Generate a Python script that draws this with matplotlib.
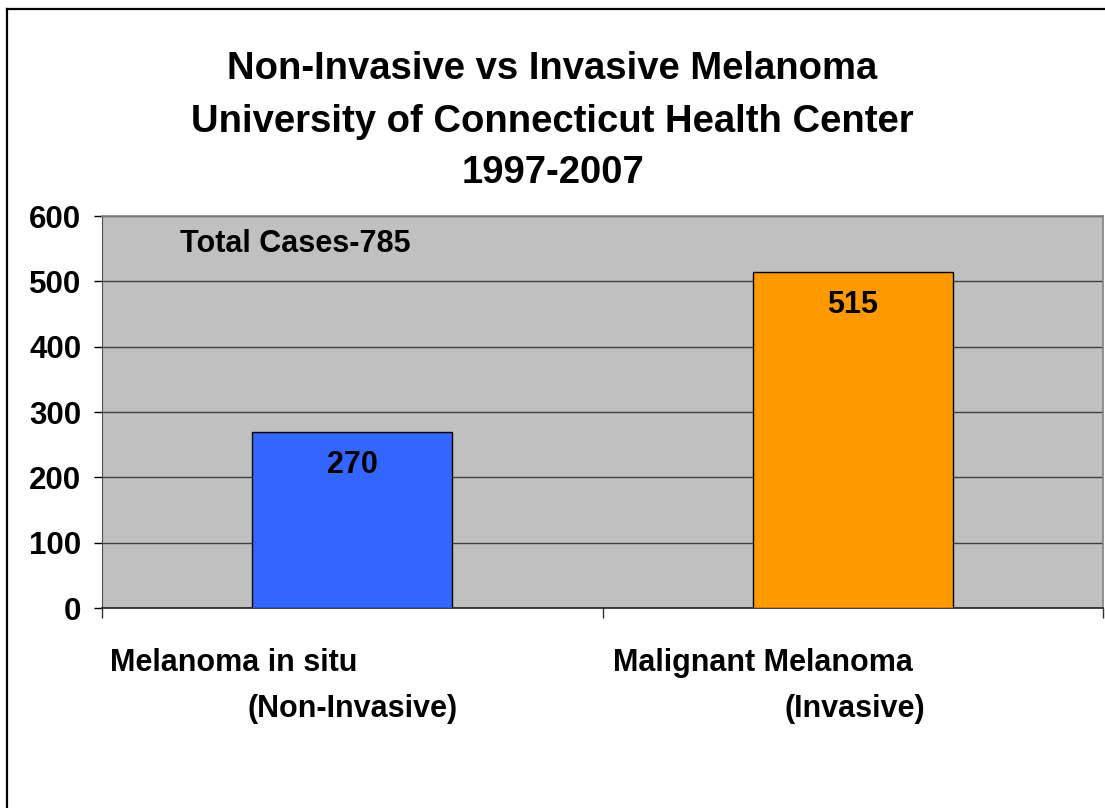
import matplotlib.pyplot as plt
from matplotlib.lines import Line2D

plt.rcParams['font.family'] = ['Liberation Sans', 'DejaVu Sans']
plt.rcParams['font.weight'] = 'bold'

title_lines = ['Non-Invasive vs Invasive Melanoma',
               'University of Connecticut Health Center',
               '1997-2007']
categories = ['Melanoma in situ', 'Malignant Melanoma']
subtitles = ['(Non-Invasive)', '(Invasive)']
cases = [270, 515]
colors = ['#3366FF', '#FF9900']
total_note = 'Total Cases-785'
yticks = [0, 100, 200, 300, 400, 500, 600]

W, H = 1105, 808
fig = plt.figure(figsize=(W / 100, H / 100), dpi=100)
ax = fig.add_axes([102 / W, 200 / H, 1001 / W, 392 / H])
ax.set_facecolor('#C0C0C0')

x = list(range(len(categories)))
ax.bar(x, cases, width=0.4, color=colors, edgecolor='black', linewidth=1, zorder=3)
for xi, v in zip(x, cases):
    ax.annotate(str(v), (xi, v), xytext=(0, -24), textcoords='offset points',
                ha='center', va='center', fontsize=22, fontweight='bold', zorder=4)

ax.set_xlim(-0.5, len(categories) - 0.5)
ax.set_ylim(0, 600)
ax.set_yticks(yticks)
ax.set_yticklabels([str(t) for t in yticks], fontsize=22.5, fontweight='bold')
ax.yaxis.grid(True, color='#404040', linewidth=1, zorder=1)
ax.tick_params(axis='y', length=6, width=1, pad=9, color='black')

ax.set_xticks([])
ax.set_xticks([i - 0.5 for i in range(len(categories) + 1)], minor=True)
ax.tick_params(axis='x', which='minor', length=7, width=1, color='#333333')

for s in ['top', 'right']:
    ax.spines[s].set_color('#808080')
    ax.spines[s].set_linewidth(1.2)
ax.spines['left'].set_color('#505050')
ax.spines['bottom'].set_color('#202020')
ax.spines['bottom'].set_linewidth(1.2)

ax.text(0.078, 0.929, total_note, transform=ax.transAxes, ha='left', va='center',
        fontsize=22, fontweight='bold')


def px(xp, yp):
    return xp / W, 1 - yp / H


# title, centred on the figure
for line, yb in zip(title_lines, [79, 132, 183]):
    fig.text(*px(W / 2, yb), line, ha='center', va='baseline', fontsize=27.5,
             fontweight='bold')

# category labels, two lines each
fig.text(*px(110, 671), categories[0], ha='left', va='baseline', fontsize=22, fontweight='bold')
fig.text(*px(458, 717), subtitles[0], ha='right', va='baseline', fontsize=22, fontweight='bold')
fig.text(*px(613, 671), categories[1], ha='left', va='baseline', fontsize=22, fontweight='bold')
fig.text(*px(925, 717), subtitles[1], ha='right', va='baseline', fontsize=22, fontweight='bold')

# outer frame (only left and top visible)
fig.add_artist(Line2D([7 / W, 7 / W], [0, 1 - 9 / H], color='black', linewidth=1.6))
fig.add_artist(Line2D([7 / W, 1], [1 - 9 / H, 1 - 9 / H], color='black', linewidth=1.6))

fig.savefig('out.png', dpi=100, facecolor='white')
